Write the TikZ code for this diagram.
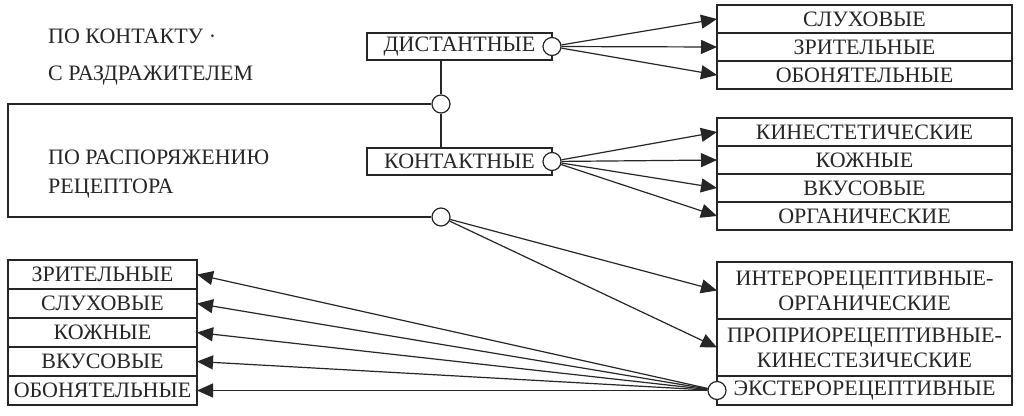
\documentclass[tikz,border=0pt]{standalone}
\usepackage{fontspec}
\setmainfont{Liberation Serif}
\usetikzlibrary{arrows.meta}
\definecolor{ink}{HTML}{262626}

\begin{document}
\begin{tikzpicture}[x=1pt, y=-1pt,
    every node/.style={text=ink, font=\fontsize{22}{24}\selectfont},
    rbox/.style={draw=ink, line width=2pt, minimum width=295pt, minimum height=28pt, inner sep=0pt, outer sep=0pt, align=center},
    lbox/.style={draw=ink, line width=2pt, minimum width=189pt, minimum height=29pt, inner sep=0pt, outer sep=0pt},
    mbox/.style={draw=ink, line width=2pt, minimum width=185pt, minimum height=27pt, inner sep=0pt, outer sep=0pt},
    joint/.style={circle, draw=ink, fill=white, line width=1.2pt, minimum size=18pt, inner sep=0pt},
    arr/.style={draw=ink, line width=1.2pt, -{Triangle[length=16pt,width=14pt]}},
    frame/.style={draw=ink, line width=2pt}
]
    % Page
    \fill[white] (0,0) rectangle (1024,415);
    \useasboundingbox (0,0) rectangle (1024,415);

    % Left texts
    \node[anchor=west, inner sep=0pt, align=left, font=\fontsize{22}{36.5}\selectfont] (bycontact) at (48,57) {ПО КОНТАКТУ ·\\С РАЗДРАЖИТЕЛЕМ};
    \node[anchor=west, inner sep=0pt, align=left, font=\fontsize{22}{29}\selectfont] (byreceptor) at (48,174) {ПО РАСПОРЯЖЕНИЮ\\РЕЦЕПТОРА};

    % Middle boxes
    \node[mbox] (dist) at (459.5,46.5) {ДИСТАНТНЫЕ};
    \node[mbox] (kont) at (459.5,161.5) {КОНТАКТНЫЕ};

    % Right column, group 1
    \node[rbox] (sluh1) at (864.5,19) {СЛУХОВЫЕ};
    \node[rbox] (zrit1) at (864.5,47) {ЗРИТЕЛЬНЫЕ};
    \node[rbox] (obon1) at (864.5,75) {ОБОНЯТЕЛЬНЫЕ};

    % Right column, group 2
    \node[rbox] (kinest) at (864.5,132) {КИНЕСТЕТИЧЕСКИЕ};
    \node[rbox] (kozh1) at (864.5,160) {КОЖНЫЕ};
    \node[rbox] (vkus1) at (864.5,188) {ВКУСОВЫЕ};
    \node[rbox] (organ) at (864.5,216) {ОРГАНИЧЕСКИЕ};

    % Right column, group 3
    \node[rbox, minimum height=57pt, font=\fontsize{22}{25}\selectfont] (intero) at (864.5,290.5) {ИНТЕРОРЕЦЕПТИВНЫЕ-\\ОРГАНИЧЕСКИЕ};
    \node[rbox, minimum height=57pt, font=\fontsize{22}{25}\selectfont] (proprio) at (864.5,347.5) {ПРОПРИОРЕЦЕПТИВНЫЕ-\\КИНЕСТЕЗИЧЕСКИЕ};
    \node[rbox, minimum height=29pt] (extero) at (864.5,390.5) {ЭКСТЕРОРЕЦЕПТИВНЫЕ};

    % Left column
    \node[lbox] (zrit2) at (102.5,274.5) {ЗРИТЕЛЬНЫЕ};
    \node[lbox] (sluh2) at (102.5,303.5) {СЛУХОВЫЕ};
    \node[lbox] (kozh2) at (102.5,332.5) {КОЖНЫЕ};
    \node[lbox] (vkus2) at (102.5,361.5) {ВКУСОВЫЕ};
    \node[lbox] (obon2) at (102.5,390.5) {ОБОНЯТЕЛЬНЫЕ};

    % Joints
    \node[joint] (jtop) at (441,104) {};
    \node[joint] (jbot) at (441,217) {};
    \node[joint] (jdist) at (dist.east) {};
    \node[joint] (jkont) at (kont.east) {};
    \node[joint] (jext) at (extero.west) {};

    % Frame round the left block
    \coordinate (ctl) at (8,104);
    \coordinate (cbl) at (8,217);
    \draw[frame] (jtop.west) -- (ctl) -- (cbl) -- (jbot.west);
    \draw[frame] (jtop |- dist.south) -- (jtop.north);
    \draw[frame] (jtop.south) -- (jtop |- kont.north);

    % Arrows from the distant joint
    \draw[arr] (jdist) -- (sluh1.west);
    \draw[arr] (jdist) -- (zrit1.west);
    \draw[arr] (jdist) -- (obon1.west);

    % Arrows from the contact joint
    \draw[arr] (jkont) -- (kinest.west);
    \draw[arr] (jkont) -- (kozh1.west);
    \draw[arr] (jkont) -- (vkus1.west);
    \draw[arr] (jkont) -- (organ.west);

    % Arrows from the receptor joint
    \draw[arr] (jbot) -- (intero.west);
    \draw[arr] (jbot) -- (proprio.west);

    % Arrows from the extero joint
    \draw[arr] (jext) -- (zrit2.east);
    \draw[arr] (jext) -- (sluh2.east);
    \draw[arr] (jext) -- (kozh2.east);
    \draw[arr] (jext) -- (vkus2.east);
    \draw[arr] (jext) -- (obon2.east);
\end{tikzpicture}
\end{document}
